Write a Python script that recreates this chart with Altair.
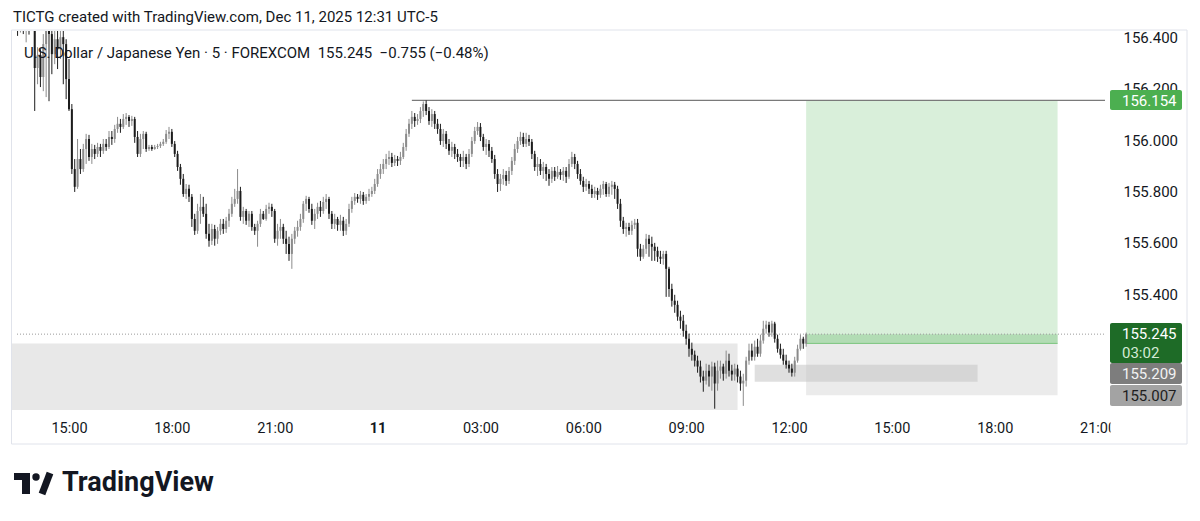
import altair as alt
import pandas as pd
import numpy as np

# ---------------- data (USD/JPY, 5-minute candles, Dec 10 13:30 -> Dec 11 12:30) ----------------
first_open = 156.470
close = [
    156.455, 156.465, 156.448, 156.458, 156.440, 156.452, 156.280, 156.330, 156.245, 156.373,
    156.440, 156.412, 156.334, 156.392, 156.353, 156.400, 156.373, 156.237, 156.120, 155.887,
    155.818, 155.926, 155.887, 155.965, 156.004, 155.934, 155.965, 155.946, 155.973, 155.958,
    155.985, 155.973, 156.012, 156.004, 156.043, 156.063, 156.051, 156.082, 156.090, 156.074,
    156.082, 156.012, 155.946, 156.004, 156.024, 155.965, 155.973, 155.965, 155.973, 155.977,
    155.985, 155.993, 156.024, 156.032, 155.985, 155.946, 155.895, 155.849, 155.790, 155.810,
    155.779, 155.693, 155.647, 155.724, 155.740, 155.713, 155.635, 155.608, 155.654, 155.616,
    155.647, 155.674, 155.654, 155.686, 155.713, 155.752, 155.771, 155.802, 155.701, 155.724,
    155.686, 155.713, 155.662, 155.647, 155.674, 155.713, 155.693, 155.732, 155.740, 155.724,
    155.616, 155.647, 155.662, 155.616, 155.596, 155.557, 155.616, 155.647, 155.662, 155.693,
    155.752, 155.771, 155.732, 155.686, 155.713, 155.740, 155.724, 155.759, 155.771, 155.713,
    155.674, 155.693, 155.670, 155.686, 155.647, 155.674, 155.732, 155.763, 155.779, 155.771,
    155.787, 155.763, 155.779, 155.790, 155.802, 155.829, 155.868, 155.887, 155.907, 155.926,
    155.934, 155.911, 155.926, 155.919, 155.934, 155.973, 156.024, 156.063, 156.090, 156.074,
    156.082, 156.113, 156.140, 156.113, 156.074, 156.101, 156.063, 156.043, 155.996, 156.024,
    155.985, 155.958, 155.973, 155.946, 155.934, 155.919, 155.934, 155.907, 155.946, 155.996,
    156.035, 156.051, 156.012, 155.973, 155.985, 155.958, 155.926, 155.868, 155.829, 155.849,
    155.864, 155.841, 155.880, 155.919, 155.965, 155.996, 156.012, 155.985, 156.004, 155.993,
    155.946, 155.895, 155.907, 155.880, 155.895, 155.868, 155.849, 155.880, 155.857, 155.876,
    155.864, 155.880, 155.857, 155.907, 155.934, 155.907, 155.868, 155.841, 155.818, 155.829,
    155.810, 155.790, 155.802, 155.787, 155.810, 155.829, 155.790, 155.818, 155.826, 155.810,
    155.752, 155.686, 155.654, 155.662, 155.647, 155.670, 155.678, 155.577, 155.546, 155.577,
    155.616, 155.596, 155.585, 155.569, 155.546, 155.538, 155.557, 155.499, 155.421, 155.375,
    155.359, 155.313, 155.297, 155.258, 155.227, 155.188, 155.165, 155.142, 155.119, 155.080,
    155.064, 155.103, 155.080, 155.119, 155.053, 155.103, 155.119, 155.091, 155.142, 155.103,
    155.088, 155.111, 155.080, 155.053, 155.064, 155.142, 155.181, 155.157, 155.196, 155.169,
    155.220, 155.266, 155.282, 155.251, 155.286, 155.227, 155.188, 155.165, 155.142, 155.126,
    155.111, 155.095, 155.142, 155.188, 155.227, 155.208, 155.245,
]
high = [
    156.490, 156.480, 156.475, 156.480, 156.470, 156.475, 156.460, 156.361, 156.353, 156.412,
    156.460, 156.450, 156.450, 156.450, 156.450, 156.450, 156.439, 156.392, 156.315, 156.140,
    155.926, 156.004, 155.965, 155.985, 156.024, 156.020, 155.985, 155.981, 155.989, 155.985,
    156.004, 156.004, 156.035, 156.035, 156.059, 156.090, 156.082, 156.101, 156.105, 156.097,
    156.094, 156.090, 156.035, 156.024, 156.035, 156.032, 155.981, 155.981, 155.981, 155.985,
    155.993, 156.004, 156.039, 156.051, 156.043, 155.996, 155.958, 155.907, 155.868, 155.829,
    155.826, 155.790, 155.713, 155.752, 155.790, 155.779, 155.752, 155.674, 155.674, 155.670,
    155.662, 155.693, 155.693, 155.701, 155.732, 155.779, 155.810, 155.887, 155.818, 155.740,
    155.732, 155.724, 155.724, 155.674, 155.686, 155.732, 155.724, 155.748, 155.756, 155.752,
    155.732, 155.674, 155.693, 155.674, 155.647, 155.624, 155.635, 155.662, 155.686, 155.713,
    155.763, 155.783, 155.779, 155.752, 155.732, 155.756, 155.763, 155.779, 155.790, 155.779,
    155.724, 155.713, 155.701, 155.709, 155.701, 155.693, 155.752, 155.779, 155.794, 155.790,
    155.802, 155.798, 155.790, 155.810, 155.818, 155.849, 155.887, 155.907, 155.926, 155.946,
    155.958, 155.950, 155.942, 155.938, 155.954, 155.989, 156.043, 156.082, 156.113, 156.105,
    156.101, 156.128, 156.150, 156.154, 156.128, 156.120, 156.113, 156.082, 156.063, 156.043,
    156.035, 156.004, 155.993, 155.985, 155.965, 155.946, 155.958, 155.946, 155.965, 156.012,
    156.051, 156.070, 156.066, 156.024, 156.004, 156.000, 155.973, 155.942, 155.887, 155.868,
    155.887, 155.880, 155.895, 155.934, 155.985, 156.012, 156.032, 156.028, 156.028, 156.020,
    156.004, 155.958, 155.934, 155.926, 155.915, 155.907, 155.887, 155.895, 155.895, 155.899,
    155.887, 155.895, 155.895, 155.926, 155.954, 155.946, 155.919, 155.887, 155.857, 155.849,
    155.841, 155.826, 155.818, 155.814, 155.826, 155.841, 155.837, 155.833, 155.841, 155.837,
    155.822, 155.771, 155.701, 155.678, 155.678, 155.686, 155.693, 155.693, 155.596, 155.592,
    155.635, 155.631, 155.624, 155.600, 155.585, 155.569, 155.569, 155.569, 155.507, 155.441,
    155.398, 155.375, 155.336, 155.320, 155.282, 155.247, 155.212, 155.181, 155.161, 155.142,
    155.103, 155.130, 155.126, 155.138, 155.134, 155.142, 155.142, 155.130, 155.181, 155.169,
    155.126, 155.130, 155.126, 155.103, 155.091, 155.157, 155.208, 155.208, 155.220, 155.227,
    155.243, 155.297, 155.297, 155.293, 155.297, 155.293, 155.243, 155.208, 155.188, 155.165,
    155.142, 155.130, 155.157, 155.204, 155.243, 155.235, 155.251,
]
low = [
    156.405, 156.418, 156.412, 156.380, 156.410, 156.425, 156.113, 156.217, 156.206, 156.190,
    156.167, 156.151, 156.256, 156.295, 156.276, 156.315, 156.217, 156.159, 156.113, 155.868,
    155.798, 155.810, 155.868, 155.876, 155.907, 155.919, 155.907, 155.926, 155.934, 155.934,
    155.946, 155.958, 155.965, 155.981, 155.989, 156.028, 156.028, 156.043, 156.059, 156.051,
    156.055, 155.989, 155.934, 155.934, 155.965, 155.954, 155.958, 155.958, 155.962, 155.965,
    155.969, 155.977, 155.985, 156.004, 155.973, 155.934, 155.880, 155.826, 155.779, 155.771,
    155.759, 155.662, 155.631, 155.635, 155.674, 155.701, 155.616, 155.585, 155.592, 155.589,
    155.596, 155.631, 155.635, 155.639, 155.662, 155.701, 155.740, 155.752, 155.686, 155.674,
    155.670, 155.662, 155.647, 155.631, 155.585, 155.662, 155.689, 155.686, 155.713, 155.701,
    155.600, 155.589, 155.616, 155.596, 155.557, 155.530, 155.499, 155.596, 155.624, 155.647,
    155.678, 155.724, 155.717, 155.670, 155.654, 155.693, 155.701, 155.713, 155.732, 155.693,
    155.654, 155.654, 155.647, 155.647, 155.627, 155.631, 155.662, 155.717, 155.748, 155.756,
    155.752, 155.748, 155.752, 155.763, 155.779, 155.790, 155.818, 155.849, 155.868, 155.887,
    155.903, 155.895, 155.899, 155.899, 155.903, 155.926, 155.958, 156.012, 156.043, 156.051,
    156.059, 156.066, 156.090, 156.097, 156.059, 156.051, 156.043, 156.024, 155.981, 155.973,
    155.965, 155.942, 155.934, 155.926, 155.915, 155.895, 155.895, 155.887, 155.895, 155.934,
    155.985, 156.020, 155.996, 155.958, 155.942, 155.934, 155.911, 155.849, 155.798, 155.802,
    155.826, 155.822, 155.829, 155.864, 155.903, 155.950, 155.981, 155.973, 155.973, 155.977,
    155.926, 155.880, 155.860, 155.864, 155.849, 155.841, 155.822, 155.833, 155.841, 155.849,
    155.845, 155.841, 155.833, 155.849, 155.895, 155.887, 155.849, 155.826, 155.798, 155.802,
    155.790, 155.775, 155.775, 155.767, 155.775, 155.787, 155.779, 155.779, 155.787, 155.771,
    155.732, 155.662, 155.635, 155.624, 155.631, 155.631, 155.654, 155.546, 155.530, 155.538,
    155.557, 155.546, 155.530, 155.530, 155.526, 155.518, 155.515, 155.390, 155.390, 155.352,
    155.328, 155.297, 155.266, 155.235, 155.204, 155.157, 155.142, 155.119, 155.095, 155.057,
    155.021, 155.049, 155.041, 155.025, 154.955, 155.025, 155.072, 155.064, 155.072, 155.080,
    155.064, 155.064, 155.057, 155.025, 154.966, 155.041, 155.126, 155.142, 155.142, 155.157,
    155.157, 155.208, 155.247, 155.235, 155.235, 155.212, 155.173, 155.150, 155.126, 155.111,
    155.095, 155.080, 155.080, 155.134, 155.181, 155.188, 155.196,
]
start_minute = 810      # Dec 10 13:30, minutes since Dec 10 00:00
bar_minutes = 5

# drawing tool levels (prices) and their time spans (minutes since Dec 10 00:00)
target_price = 156.154
entry_price = 155.245
stop_top = 155.209
stop_price = 155.007
fvg_top, fvg_bottom = 155.126, 155.060
range_top, range_bottom = 155.209, 154.90
range_start, range_end = 700, 2070
fvg_start, fvg_end = 2100, 2490
trade_start, trade_end = 2190, 2630
level_start = 1500

# axes
tick_minutes = [900, 1080, 1260, 1440, 1620, 1800, 1980, 2160, 2340, 2520, 2700]
price_ticks = [155.4, 155.6, 155.8, 156.0, 156.2, 156.4]

header_text = "TICTG created with TradingView.com, Dec 11, 2025 12:31 UTC-5"
legend_text = ("U.S. Dollar / Japanese Yen \u00b7 5 \u00b7 FOREXCOM\u00a0\u00a0155.245"
               "\u00a0\u00a0\u22120.755 (\u22120.48%)")

# ---------------- build frames ----------------
n = len(close)
opens = [first_open] + close[:-1]
df = pd.DataFrame({
    "t": [start_minute + bar_minutes * i for i in range(n)],
    "open": opens, "close": close, "high": high, "low": low,
})
df["high"] = df[["high", "open", "close"]].max(axis=1)
df["low"] = df[["low", "open", "close"]].min(axis=1)
df["top"] = df[["open", "close"]].max(axis=1)
df["bot"] = df[["open", "close"]].min(axis=1)
df["dir"] = np.where(df["close"] >= df["open"], "up", "down")

FONT = "Roboto"
TXT = "#131722"
X_END = 2713
xs = alt.Scale(domain=[809, X_END], nice=False, zero=False)
ys = alt.Scale(domain=[154.95, 156.424], nice=False, zero=False)
cscale = alt.Scale(domain=["up", "down"], range=["#8b8b8b", "#1c1c1c"])

label_expr = ("datum.value == 1440 ? '11' : "
              "(floor((datum.value % 1440) / 60) < 10 ? '0' : '') + floor((datum.value % 1440) / 60) + ':00'")

x_axis = alt.Axis(values=tick_minutes, labelExpr=label_expr, ticks=False, domain=False, grid=False,
                  labelPadding=11, labelFontSize=14.5, labelFont=FONT, labelColor=TXT,
                  labelFlush=False, labelOverlap=False, tickSize=0,
                  labelFontWeight={"condition": {"test": "datum.value == 1440", "value": "bold"},
                                   "value": "normal"})
y_axis = alt.Axis(values=price_ticks, format=".3f", orient="right", ticks=False, domain=False,
                  grid=False, labelPadding=13, labelFontSize=15, labelFont=FONT, labelColor=TXT,
                  tickSize=0, labelFlush=False, labelOverlap=False)

one = pd.DataFrame({"k": [0]})


def zone(t0, t1, p0, p1, fill, opacity=1.0, axes=False):
    d = pd.DataFrame({"t0": [t0], "t1": [t1], "p0": [p0], "p1": [p1]})
    return alt.Chart(d).mark_rect(clip=True, fill=fill, opacity=opacity).encode(
        x=alt.X("t0:Q", scale=xs, title=None, **({"axis": x_axis} if axes else {})),
        x2="t1:Q",
        y=alt.Y("p0:Q", scale=ys, title=None, **({"axis": y_axis} if axes else {})),
        y2="p1:Q")


def hline(p, t0, t1, color, width=1.0, dash=None):
    d = pd.DataFrame({"p": [p], "t0": [t0], "t1": [t1]})
    kw = {"strokeDash": dash} if dash else {}
    return alt.Chart(d).mark_rule(color=color, strokeWidth=width, clip=True, **kw).encode(
        x=alt.X("t0:Q", scale=xs, title=None), x2="t1:Q", y=alt.Y("p:Q", scale=ys, title=None))


def text_at(txt, x, y, size=14, color=TXT, weight="normal", align="left"):
    return alt.Chart(pd.DataFrame({"s": [txt]})).mark_text(
        align=align, baseline="middle", fontSize=size, font=FONT, color=color, fontWeight=weight
    ).encode(x=alt.value(x), y=alt.value(y), text="s:N")


def box_at(x0, x1, y0, y1, fill, radius=0):
    return alt.Chart(one).mark_rect(fill=fill, cornerRadius=radius).encode(
        x=alt.value(x0), x2=alt.value(x1), y=alt.value(y0), y2=alt.value(y1))


frame = alt.Chart(one).mark_rect(fillOpacity=0, stroke="#e0e3eb", strokeWidth=1).encode(
    x=alt.value(-0.5), x2=alt.value(1175), y=alt.value(-1), y2=alt.value(413))

range_box = zone(range_start, range_end, range_top, range_bottom, "#e8e8e8", axes=True)
stop_box = zone(trade_start, trade_end, stop_top, stop_price, "#ebebeb")
target_box = zone(trade_start, trade_end, target_price, stop_top, "#d9efda")
entry_box = zone(trade_start, trade_end, entry_price, stop_top, "#b2dcb4")
fvg_box = zone(fvg_start, fvg_end, fvg_top, fvg_bottom, "#c4c4c4", opacity=0.55)
entry_line = hline(stop_top, trade_start, trade_end, "#7cc47f", 1)
level = hline(target_price, level_start, X_END, "#7a7a7a", 1.2)
cur = hline(entry_price, 809, X_END, "#9a9a9a", 1, [1, 2])

wicks = alt.Chart(df).mark_rule(strokeWidth=1, clip=True).encode(
    x=alt.X("t:Q", scale=xs, title=None),
    y=alt.Y("low:Q", scale=ys, title=None), y2="high:Q",
    color=alt.Color("dir:N", scale=cscale, legend=None))

bodies = alt.Chart(df).mark_bar(size=2, clip=True).encode(
    x=alt.X("t:Q", scale=xs, title=None),
    y=alt.Y("bot:Q", scale=ys, title=None), y2="top:Q",
    color=alt.Color("dir:N", scale=cscale, legend=None))

header = text_at(header_text, 1, -14, size=15)
legend = text_at(legend_text, 12, 22, size=15)

cover = box_at(1098.5, 1174, 381, 412, "white")

tags = [
    box_at(1098, 1170, 59, 79, "#4caf50", 2), text_at("156.154", 1110, 69.5, size=15, color="white"),
    box_at(1098, 1170, 292, 332, "#1e6b27", 2), text_at("155.245", 1110, 303, size=15, color="white"),
    text_at("03:02", 1110, 322, size=15, color="#d4ead5"),
    box_at(1098, 1170, 332, 353, "#7d7d7d", 2), text_at("155.209", 1110, 342.5, size=15, color="#f2f2f2"),
    box_at(1098, 1170, 354, 375, "#a3a3a3", 2), text_at("155.007", 1110, 364.5, size=15, color="#1e1e1e"),
]

# TradingView logo
logo_T_bar = alt.Chart(one).mark_rule(color="#131722", strokeWidth=7).encode(
    x=alt.value(2), x2=alt.value(18), y=alt.value(445.5), y2=alt.value(445.5))
logo_T_stem = alt.Chart(one).mark_rule(color="#131722", strokeWidth=8).encode(
    x=alt.value(14), x2=alt.value(14), y=alt.value(442), y2=alt.value(463))
logo_dot = alt.Chart(one).mark_point(filled=True, color="#131722", size=55, opacity=1).encode(
    x=alt.value(24), y=alt.value(446))
logo_slash = alt.Chart(one).mark_rule(color="#131722", strokeWidth=7).encode(
    x=alt.value(38), x2=alt.value(30), y=alt.value(442), y2=alt.value(463))
logo_text = text_at("TradingView", 50, 452, size=27, weight="bold")

chart = alt.layer(
    range_box, stop_box, target_box, entry_box, fvg_box, entry_line, frame, level, cur,
    wicks, bodies, legend, header, cover, *tags,
    logo_T_bar, logo_T_stem, logo_dot, logo_slash, logo_text,
).properties(
    width=1098, height=379,
    padding={"left": 4, "top": 23, "right": 78, "bottom": 100},
    autosize=alt.AutoSizeParams(type="none"),
    background="white",
).configure_view(stroke=None)

chart.save("out.html", embed_options={"renderer": "svg", "actions": False})
